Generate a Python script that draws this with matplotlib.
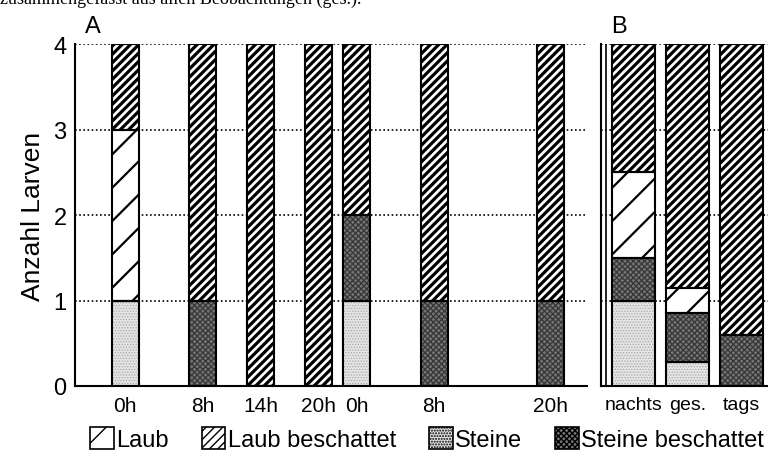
import matplotlib
matplotlib.use("Agg")
import matplotlib.pyplot as plt
from matplotlib.patches import Patch

plt.rcParams['font.family'] = ['Liberation Sans', 'DejaVu Sans']

# Teil A: Einzelbeobachtungen (Stunden seit Beginn)
zeit_pos = [0, 8, 14, 20, 24, 32, 44]
zeit_labels = ["0h", "8h", "14h", "20h", "0h", "8h", "20h"]
a_steine = [1, 0, 0, 0, 1, 0, 0]
a_steine_besch = [0, 1, 0, 0, 1, 1, 1]
a_laub = [2, 0, 0, 0, 0, 0, 0]
a_laub_besch = [1, 3, 4, 4, 2, 3, 3]

# Teil B: Mittelwerte
gruppen = ["nachts", "ges.", "tags"]
b_steine = [1.0, 2 / 7, 0.0]
b_steine_besch = [0.5, 4 / 7, 0.6]
b_laub = [1.0, 2 / 7, 0.0]
b_laub_besch = [1.5, 20 / 7, 3.4]

# Aussehen der Kategorien: (facecolor, hatchcolor, hatch, hatch-Linienbreite)
stile = {
    "Steine": ("#e4e4e4", "#a8a8a8", "......", 0.6),
    "Steine beschattet": ("#747474", "#363636", "xxxxxx", 0.9),
    "Laub": ("white", "black", "/", 1.6),
    "Laub beschattet": ("white", "black", "////", 2.3),
}
reihenfolge = ["Steine", "Steine beschattet", "Laub", "Laub beschattet"]

fig = plt.figure(figsize=(7.68, 4.6), dpi=100)
axA = fig.add_axes([0.0977, 0.1587, 0.6663, 0.7433])
axB = fig.add_axes([0.7826, 0.1587, 0.2174, 0.7433])


def stapel(ax, x, reihen, breite):
    unten = [0.0] * len(x)
    for werte, name in zip(reihen, reihenfolge):
        fc, hc, h, hlw = stile[name]
        with plt.rc_context({"hatch.linewidth": hlw}):
            ax.bar(x, werte, breite, bottom=unten, color=fc, edgecolor=hc,
                   hatch=h, linewidth=0, zorder=2)
        ax.bar(x, werte, breite, bottom=unten, fill=False,
               edgecolor="black", linewidth=1.5, zorder=3)
        unten = [u + w for u, w in zip(unten, werte)]


stapel(axA, zeit_pos, [a_steine, a_steine_besch, a_laub, a_laub_besch], 2.8)
stapel(axB, [0, 1, 2], [b_steine, b_steine_besch, b_laub, b_laub_besch], 0.8)

for ax in (axA, axB):
    ax.set_ylim(0, 4)
    ax.set_yticks([0, 1, 2, 3, 4])
    ax.yaxis.grid(True, linestyle=(0, (1, 1.5)), color="black", linewidth=1.2)
    ax.set_axisbelow(True)
    ax.spines["top"].set_visible(False)
    ax.spines["right"].set_visible(False)
    ax.spines["left"].set_linewidth(1.5)
    ax.spines["bottom"].set_linewidth(1.5)
    ax.tick_params(axis="x", length=0, labelsize=15, pad=7)

axA.set_xlim(-5.2, 47.8)
axA.set_xticks(zeit_pos)
axA.set_xticklabels(zeit_labels)
axA.tick_params(axis="y", length=0, labelsize=17, pad=6)
axA.set_ylabel("Anzahl Larven", fontsize=19, labelpad=6)
axA.text(0.02, 1.02, "A", transform=axA.transAxes, fontsize=17, va="bottom")

axB.set_xlim(-0.6, 2.5)
axB.set_xticks([0, 1, 2])
axB.set_xticklabels(gruppen)
axB.tick_params(axis="x", labelsize=14)
axB.tick_params(axis="y", length=0, labelleft=False)
axB.axvline(-0.5, color="black", linewidth=1.2, zorder=1)
axB.text(0.06, 1.02, "B", transform=axB.transAxes, fontsize=17, va="bottom")

fig.text(0.0, 0.991, "zusammengefasst aus allen Beobachtungen (ges.).",
         family="Liberation Serif", fontsize=13, va="baseline")

legende = ["Laub", "Laub beschattet", "Steine", "Steine beschattet"]
griffe = []
for name in legende:
    fc, hc, h, hlw = stile[name]
    with plt.rc_context({"hatch.linewidth": min(hlw, 1.6)}):
        griffe.append(Patch(facecolor=fc, edgecolor="black", hatch=h, linewidth=1.2))
fig.legend(griffe, legende, loc="center", bbox_to_anchor=(0.556, 0.043), ncol=4,
           frameon=False, fontsize=17, handlelength=1.0, handleheight=1.0,
           handletextpad=0.1, columnspacing=1.4, borderaxespad=0)

fig.savefig("out.png", dpi=100)
